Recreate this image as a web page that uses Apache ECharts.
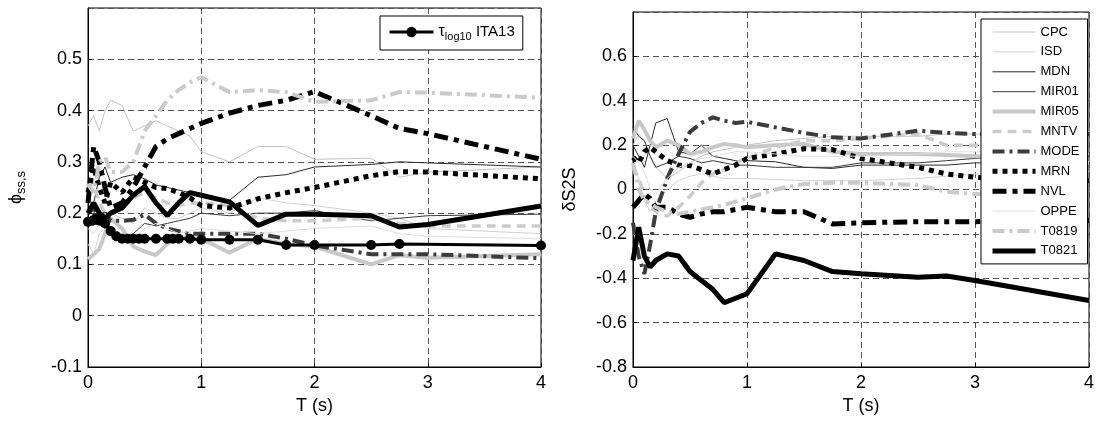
<!DOCTYPE html>
<html>
<head>
<meta charset="utf-8">
<script src="https://cdn.jsdelivr.net/npm/echarts@6/dist/echarts.min.js"></script>
<style>
  html, body { margin: 0; padding: 0; background: #fff; }
  #chart { width: 1099px; height: 427px; }
</style>
</head>
<body>
<div id="chart"></div>
<script>
// periods T (s) shared by the team curves
var periods = [0, 0.05, 0.1, 0.15, 0.2, 0.3, 0.4, 0.5, 0.6, 0.7, 0.8, 0.9, 1, 1.25, 1.5, 1.75, 2, 2.5, 2.75, 3, 4];
var teams = ["CPC", "ISD", "MDN", "MIR01", "MIR05", "MNTV", "MODE", "MRN", "NVL", "OPPE", "T0819", "T0821"];

// left panel: phi_ss,s
var phiCPC   = [0.37, 0.39, 0.36, 0.40, 0.42, 0.41, 0.36, 0.37, 0.38, 0.37, 0.36, 0.35, 0.32, 0.30, 0.33, 0.33, 0.305, 0.307, 0.27, 0.28, 0.29];
var phiISD   = [0.14, 0.12, 0.16, 0.17, 0.20, 0.19, 0.18, 0.21, 0.20, 0.19, 0.19, 0.20, 0.21, 0.20, 0.23, 0.22, 0.215, 0.20, 0.19, 0.17, 0.16];
var phiMDN   = [0.20, 0.22, 0.27, 0.29, 0.26, 0.27, 0.275, 0.267, 0.255, 0.25, 0.245, 0.24, 0.235, 0.225, 0.27, 0.275, 0.29, 0.295, 0.30, 0.298, 0.29];
var phiMIR01 = [0.18, 0.20, 0.19, 0.17, 0.16, 0.15, 0.16, 0.18, 0.175, 0.18, 0.185, 0.19, 0.20, 0.195, 0.20, 0.20, 0.205, 0.185, 0.19, 0.195, 0.198];
var phiMIR05 = [0.11, 0.12, 0.13, 0.16, 0.19, 0.17, 0.135, 0.125, 0.118, 0.14, 0.155, 0.15, 0.15, 0.123, 0.15, 0.14, 0.135, 0.10, 0.118, 0.113, 0.12];
var phiMNTV  = [0.25, 0.26, 0.22, 0.20, 0.20, 0.21, 0.23, 0.24, 0.23, 0.22, 0.215, 0.22, 0.22, 0.215, 0.19, 0.185, 0.185, 0.19, 0.18, 0.175, 0.175];
var phiMODE  = [0.20, 0.21, 0.19, 0.20, 0.185, 0.185, 0.187, 0.197, 0.18, 0.17, 0.165, 0.16, 0.16, 0.16, 0.16, 0.15, 0.137, 0.12, 0.12, 0.12, 0.112];
var phiMRN   = [0.24, 0.29, 0.25, 0.22, 0.26, 0.24, 0.27, 0.26, 0.25, 0.248, 0.24, 0.23, 0.215, 0.21, 0.228, 0.24, 0.25, 0.273, 0.281, 0.28, 0.267];
var phiNVL   = [0.22, 0.33, 0.30, 0.25, 0.21, 0.22, 0.25, 0.29, 0.33, 0.345, 0.355, 0.365, 0.375, 0.395, 0.41, 0.42, 0.437, 0.39, 0.365, 0.355, 0.305];
var phiOPPE  = [0.17, 0.16, 0.18, 0.20, 0.17, 0.16, 0.15, 0.17, 0.18, 0.17, 0.16, 0.165, 0.17, 0.165, 0.16, 0.165, 0.17, 0.175, 0.16, 0.155, 0.15];
var phiT0819 = [0.257, 0.24, 0.30, 0.31, 0.28, 0.28, 0.30, 0.36, 0.39, 0.42, 0.44, 0.455, 0.465, 0.436, 0.44, 0.436, 0.417, 0.42, 0.436, 0.435, 0.425];
var phiT0821 = [0.20, 0.22, 0.20, 0.19, 0.20, 0.21, 0.235, 0.252, 0.22, 0.195, 0.22, 0.24, 0.235, 0.222, 0.176, 0.198, 0.198, 0.195, 0.173, 0.178, 0.214];

// tau_log10 from ITA13 (own periods)
var tauPeriods = [0, 0.04, 0.07, 0.1, 0.15, 0.2, 0.25, 0.3, 0.35, 0.4, 0.45, 0.5, 0.6, 0.7, 0.75, 0.8, 0.9, 1, 1.25, 1.5, 1.75, 2, 2.5, 2.75, 4];
var tauITA13   = [0.183, 0.185, 0.19, 0.185, 0.18, 0.165, 0.155, 0.15, 0.15, 0.15, 0.15, 0.15, 0.15, 0.15, 0.15, 0.15, 0.15, 0.148, 0.148, 0.148, 0.138, 0.138, 0.138, 0.14, 0.137];

// right panel: dS2S
var dCPC   = [0.20, 0.25, 0.22, 0.15, 0.10, 0.05, 0.08, 0.12, 0.15, 0.17, 0.18, 0.19, 0.20, 0.22, 0.23, 0.24, 0.24, 0.24, 0.25, 0.25, 0.26];
var dISD   = [0.10, 0.05, -0.05, -0.10, -0.05, 0.0, 0.04, 0.06, 0.07, 0.06, 0.05, 0.05, 0.05, 0.045, 0.04, 0.04, 0.04, 0.05, 0.06, 0.07, 0.08];
var dMDN   = [0.20, 0.15, 0.10, 0.20, 0.30, 0.32, 0.17, 0.16, 0.20, 0.15, 0.14, 0.13, 0.13, 0.125, 0.10, 0.095, 0.11, 0.11, 0.11, 0.12, 0.12];
var dMIR01 = [0.28, 0.24, 0.22, 0.15, 0.10, 0.12, 0.15, 0.14, 0.12, 0.13, 0.12, 0.11, 0.11, 0.10, 0.10, 0.10, 0.12, 0.12, 0.13, 0.14, 0.15];
var dMIR05 = [0.23, 0.31, 0.27, 0.22, 0.19, 0.22, 0.20, 0.16, 0.17, 0.19, 0.205, 0.20, 0.19, 0.20, 0.205, 0.17, 0.16, 0.16, 0.155, 0.15, 0.12];
var dMNTV  = [0.10, 0.05, -0.02, -0.08, -0.10, -0.12, -0.08, -0.03, 0.03, 0.07, 0.09, 0.12, 0.14, 0.19, 0.22, 0.22, 0.23, 0.25, 0.20, 0.20, 0.20];
var dMODE  = [-0.15, -0.30, -0.38, -0.25, -0.10, 0.05, 0.16, 0.26, 0.30, 0.325, 0.31, 0.30, 0.305, 0.28, 0.255, 0.235, 0.23, 0.265, 0.255, 0.25, 0.25];
var dMRN   = [0.145, 0.12, 0.17, 0.19, 0.17, 0.13, 0.11, 0.108, 0.09, 0.07, 0.09, 0.11, 0.14, 0.16, 0.184, 0.18, 0.14, 0.10, 0.07, 0.055, 0.04];
var dNVL   = [-0.08, -0.05, -0.02, -0.04, -0.08, -0.08, -0.11, -0.125, -0.11, -0.10, -0.10, -0.09, -0.08, -0.10, -0.10, -0.155, -0.15, -0.145, -0.145, -0.145, -0.14];
var dOPPE  = [0.15, 0.12, 0.08, 0.0, -0.02, 0.05, 0.10, 0.12, 0.14, 0.15, 0.16, 0.17, 0.17, 0.16, 0.15, 0.15, 0.15, 0.16, 0.17, 0.17, 0.16];
var dT0819 = [0.12, 0.0, -0.05, -0.06, -0.08, -0.10, -0.11, -0.10, -0.09, -0.08, -0.07, -0.055, -0.04, 0.0, 0.025, 0.03, 0.03, 0.02, -0.01, -0.02, -0.03];
var dT0821 = [-0.32, -0.17, -0.30, -0.35, -0.32, -0.29, -0.30, -0.37, -0.41, -0.45, -0.51, -0.49, -0.47, -0.29, -0.32, -0.37, -0.38, -0.395, -0.39, -0.41, -0.50];

var phiData = [phiCPC, phiISD, phiMDN, phiMIR01, phiMIR05, phiMNTV, phiMODE, phiMRN, phiNVL, phiOPPE, phiT0819, phiT0821];
var dData = [dCPC, dISD, dMDN, dMIR01, dMIR05, dMNTV, dMODE, dMRN, dNVL, dOPPE, dT0819, dT0821];

// line look of each team, same order as teams
var teamStyles = [
  { color: "#c4c4c4", width: 1, type: "solid" },
  { color: "#d2d2d2", width: 1, type: "solid" },
  { color: "#2a2a2a", width: 1, type: "solid" },
  { color: "#3a3a3a", width: 1, type: "solid" },
  { color: "#c8c8c8", width: 4, type: "solid" },
  { color: "#cccccc", width: 3.5, type: [9, 6] },
  { color: "#3c3c3c", width: 4, type: [12, 5, 3, 5] },
  { color: "#000000", width: 5, type: [5, 5] },
  { color: "#000000", width: 5, type: [14, 6, 5, 6] },
  { color: "#dedede", width: 1, type: "solid" },
  { color: "#cacaca", width: 4, type: [12, 5, 3, 5] },
  { color: "#000000", width: 5, type: "solid" }
];

var FONT = "Liberation Sans, Arial, sans-serif";
var TAU = "tau";

function pairs(xs, ys) {
  var out = [];
  for (var i = 0; i < xs.length; i++) out.push([xs[i], ys[i]]);
  return out;
}

function xAxisFor(gi) {
  return {
    type: "value", gridIndex: gi, min: 0, max: 4, interval: 1,
    name: "T (s)", nameLocation: "middle", nameGap: 21,
    nameTextStyle: { fontFamily: FONT, fontSize: 18, color: "#000" },
    axisLine: { onZero: false, lineStyle: { color: "#000", width: 1 } },
    axisTick: { inside: true, length: 4, lineStyle: { color: "#000" } },
    axisLabel: { fontFamily: FONT, fontSize: 18, color: "#000", margin: 7 },
    splitLine: { show: true, lineStyle: { color: "#555", type: [6, 4], width: 1 } }
  };
}

function yAxisFor(gi, min, max, step, name, gap, rich) {
  return {
    type: "value", gridIndex: gi, min: min, max: max, interval: step,
    name: name, nameLocation: "middle", nameGap: gap, nameRotate: 90,
    nameTextStyle: { fontFamily: FONT, fontSize: 18, color: "#000", rich: rich },
    axisLine: { show: true, onZero: false, lineStyle: { color: "#000", width: 1 } },
    axisTick: { inside: true, length: 4, lineStyle: { color: "#000" } },
    axisLabel: { fontFamily: FONT, fontSize: 18, color: "#000", margin: 6, showMaxLabel: false },
    splitLine: { show: true, lineStyle: { color: "#555", type: [6, 4], width: 1 } }
  };
}

var series = [];
for (var g = 0; g < 2; g++) {
  var src = g === 0 ? phiData : dData;
  for (var k = 0; k < teams.length; k++) {
    var st = teamStyles[k];
    series.push({
      name: teams[k], type: "line", xAxisIndex: g, yAxisIndex: g,
      data: pairs(periods, src[k]), symbol: "none", silent: true,
      itemStyle: { color: st.color },
      lineStyle: { color: st.color, width: st.width, type: st.type }
    });
  }
}
series.push({
  name: TAU, type: "line", xAxisIndex: 0, yAxisIndex: 0,
  data: pairs(tauPeriods, tauITA13), symbol: "circle", symbolSize: 10, silent: true,
  itemStyle: { color: "#000" },
  lineStyle: { color: "#000", width: 3 }
});

// legend entries carry the same line look, no marker
var teamLegend = teams.map(function (t, i) {
  var st = teamStyles[i];
  return {
    name: t,
    itemStyle: { opacity: 0 },
    lineStyle: { color: st.color, width: st.width, type: st.type }
  };
});

var chart = echarts.init(document.getElementById("chart"));
chart.setOption({
  animation: false,
  backgroundColor: "#fff",
  grid: [
    { left: 88, right: 558, top: 8, bottom: 60, show: true, borderColor: "#000", borderWidth: 1, backgroundColor: "transparent" },
    { left: 633, right: 10, top: 12, bottom: 60, show: true, borderColor: "#000", borderWidth: 1, backgroundColor: "transparent" }
  ],
  xAxis: [xAxisFor(0), xAxisFor(1)],
  yAxis: [
    yAxisFor(0, -0.1, 0.6, 0.1, "{p|\u03d5}{s|ss,s}", 60, {
      p: { fontFamily: FONT, fontSize: 18, color: "#000" },
      s: { fontFamily: FONT, fontSize: 13, color: "#000", padding: [10, 0, 0, 0] }
    }),
    yAxisFor(1, -0.8, 0.8, 0.2, "\u03b4S2S", 54, {})
  ],
  legend: [
    {
      data: [{ name: TAU, lineStyle: { width: 3 } }], left: 380, top: 16, orient: "horizontal",
      padding: [8, 8, 8, 8], itemWidth: 44, itemHeight: 13,
      backgroundColor: "#fff", borderColor: "#000", borderWidth: 1,
      selectedMode: false,
      formatter: function () { return "{t|\u03c4}{s|log10} ITA13"; },
      textStyle: {
        fontFamily: FONT, fontSize: 15, color: "#000",
        rich: {
          t: { fontFamily: FONT, fontSize: 16, color: "#000" },
          s: { fontFamily: FONT, fontSize: 11, color: "#000", padding: [9, 0, 0, 0] }
        }
      }
    },
    {
      data: teamLegend, left: 981, top: 19, orient: "vertical",
      padding: [6, 8, 6, 9], itemWidth: 43, itemHeight: 14, itemGap: 5.9,
      backgroundColor: "#fff", borderColor: "#000", borderWidth: 1,
      selectedMode: false,
      textStyle: { fontFamily: FONT, fontSize: 13, color: "#000", lineHeight: 14 }
    }
  ],
  series: series
});
</script>
</body>
</html>
